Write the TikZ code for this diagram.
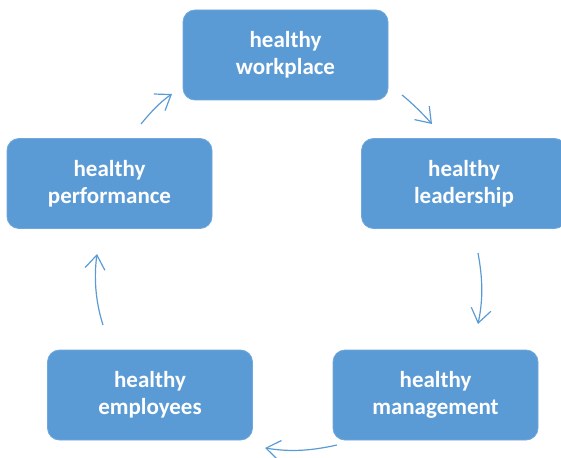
\documentclass[tikz,border=0pt]{standalone}
\usepackage{fontspec}
\setmainfont{Carlito}
\usetikzlibrary{arrows.meta}
\definecolor{boxblue}{HTML}{5B9BD5}
\definecolor{edgeblue}{HTML}{6FA8DC}
\tikzset{
  cyclebox/.style={fill=boxblue, draw=edgeblue, line width=0.8pt, rounded corners=12pt,
    minimum width=205pt, minimum height=90pt, text=white, align=center,
    font=\fontsize{23pt}{27pt}\selectfont\bfseries, inner sep=0pt},
  cyclearrow/.style={draw=boxblue, line width=1.2pt,
    -{Straight Barb[length=14pt,width=20pt,line width=1.2pt]}}
}
\begin{document}
\begin{tikzpicture}[x=1pt,y=-1pt]
\useasboundingbox (0,0) rectangle (561,457);
\node[cyclebox] (wp) at (285.5,55) {healthy\\workplace};
\node[cyclebox] (ld) at (464,183.5) {healthy\\leadership};
\node[cyclebox] (mg) at (435.5,395) {healthy\\management};
\node[cyclebox] (em) at (150,395) {healthy\\employees};
\node[cyclebox] (pf) at (109.5,183.5) {healthy\\performance};
\coordinate (a1s) at (141,124);
\coordinate (a1e) at (172,94);
\coordinate (a2s) at (402,95);
\coordinate (a2e) at (432,124);
\coordinate (a3s) at (478,253);
\coordinate (a3e) at (478,324);
\coordinate (a4s) at (337,445);
\coordinate (a4e) at (265,448);
\coordinate (a5s) at (103,325);
\coordinate (a5e) at (97,254);
\draw[cyclearrow] (a1s) .. controls (150,113) and (160,102) .. (a1e);
\draw[cyclearrow] (a2s) .. controls (412,103) and (422,113) .. (a2e);
\draw[cyclearrow] (a3s) .. controls (483,280) and (483,300) .. (a3e);
\draw[cyclearrow] (a4s) .. controls (310,451) and (290,452) .. (a4e);
\draw[cyclearrow] (a5s) .. controls (95,300) and (94,276) .. (a5e);
\end{tikzpicture}
\end{document}
